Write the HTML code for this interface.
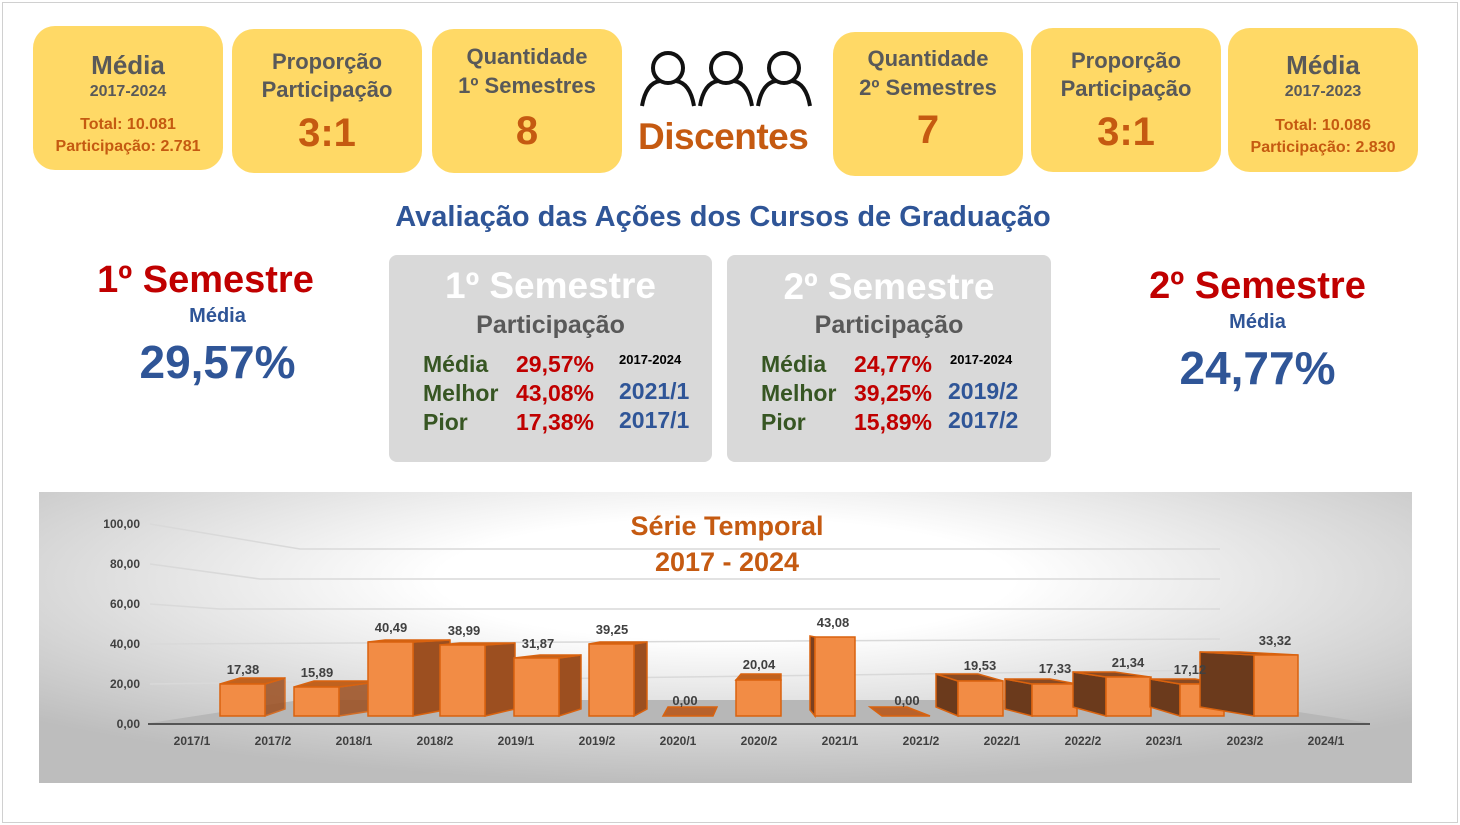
<!DOCTYPE html>
<html><head><meta charset="utf-8"><style>
*{margin:0;padding:0;box-sizing:border-box}
body{width:1460px;height:825px;background:#fff;position:relative;overflow:hidden;font-family:"Liberation Sans Narrow","Liberation Sans",sans-serif;font-weight:bold}
.frame{position:absolute;left:2px;top:2px;width:1456px;height:821px;border:1px solid #d0d0d0}
.card{position:absolute;background:#FFD966;border-radius:22px;text-align:center;color:#595959}
.a{position:absolute;white-space:nowrap}
.o{color:#C55A11}
.g{color:#595959}
.panel{position:absolute;background:#D9D9D9;border-radius:8px}
.grn{color:#375623}.red{color:#C00000}.blu{color:#2F5597}
</style></head><body>
<div class="frame"></div>

<div class="card" style="left:33px;top:26px;width:190px;height:144px">
 <div class="a" style="left:0;right:0;top:24px;font-size:26px">Média</div>
 <div class="a" style="left:0;right:0;top:57px;font-size:16px">2017-2024</div>
 <div class="a o" style="left:0;right:0;top:90px;font-size:16px">Total: 10.081</div>
 <div class="a o" style="left:0;right:0;top:112px;font-size:16px">Participação: 2.781</div>
</div>
<div class="card" style="left:232px;top:29px;width:190px;height:144px">
 <div class="a" style="left:0;right:0;top:20px;font-size:22px">Proporção</div>
 <div class="a" style="left:0;right:0;top:48px;font-size:22px">Participação</div>
 <div class="a o" style="left:0;right:0;top:82px;font-size:40px">3:1</div>
</div>
<div class="card" style="left:432px;top:29px;width:190px;height:144px">
 <div class="a" style="left:0;right:0;top:15px;font-size:22px">Quantidade</div>
 <div class="a" style="left:0;right:0;top:44px;font-size:22px">1º Semestres</div>
 <div class="a o" style="left:0;right:0;top:80px;font-size:40px">8</div>
</div>
<svg style="position:absolute;left:638px;top:48px" width="180" height="62" viewBox="0 0 180 62">
 <g fill="none" stroke="#111" stroke-width="4">
  <circle cx="30" cy="20" r="15"/><path d="M4 58 Q8 35 22 33 M38 33 Q52 35 56 58"/>
  <circle cx="88" cy="20" r="15"/><path d="M62 58 Q66 35 80 33 M96 33 Q110 35 114 58"/>
  <circle cx="146" cy="20" r="15"/><path d="M120 58 Q124 35 138 33 M154 33 Q168 35 172 58"/>
 </g></svg>
<div class="a o" style="left:638px;top:116px;font-size:37px;letter-spacing:-0.5px">Discentes</div>

<div class="card" style="left:833px;top:32px;width:190px;height:144px">
 <div class="a" style="left:0;right:0;top:14px;font-size:22px">Quantidade</div>
 <div class="a" style="left:0;right:0;top:43px;font-size:22px">2º Semestres</div>
 <div class="a o" style="left:0;right:0;top:76px;font-size:40px">7</div>
</div>
<div class="card" style="left:1031px;top:28px;width:190px;height:144px">
 <div class="a" style="left:0;right:0;top:20px;font-size:22px">Proporção</div>
 <div class="a" style="left:0;right:0;top:48px;font-size:22px">Participação</div>
 <div class="a o" style="left:0;right:0;top:82px;font-size:40px">3:1</div>
</div>
<div class="card" style="left:1228px;top:28px;width:190px;height:144px">
 <div class="a" style="left:0;right:0;top:22px;font-size:26px">Média</div>
 <div class="a" style="left:0;right:0;top:55px;font-size:16px">2017-2023</div>
 <div class="a o" style="left:0;right:0;top:89px;font-size:16px">Total: 10.086</div>
 <div class="a o" style="left:0;right:0;top:111px;font-size:16px">Participação: 2.830</div>
</div>

<div class="a blu" style="left:0;width:1446px;text-align:center;top:201px;font-size:29px">Avaliação das Ações dos Cursos de Graduação</div>

<div class="a red" style="left:60px;width:315px;text-align:center;top:259px;font-size:38px;left:48px">1º Semestre</div>
<div class="a blu" style="left:60px;width:315px;text-align:center;top:305px;font-size:20px">Média</div>
<div class="a blu" style="left:60px;width:315px;text-align:center;top:335px;font-size:46px">29,57%</div>

<div class="a red" style="left:1100px;width:315px;text-align:center;top:265px;font-size:38px">2º Semestre</div>
<div class="a blu" style="left:1100px;width:315px;text-align:center;top:311px;font-size:20px">Média</div>
<div class="a blu" style="left:1100px;width:315px;text-align:center;top:341px;font-size:46px">24,77%</div>

<div class="panel" style="left:389px;top:255px;width:323px;height:207px">
 <div class="a" style="left:0;right:0;text-align:center;top:10px;font-size:37px;color:#fff">1º Semestre</div>
 <div class="a g" style="left:0;right:0;text-align:center;top:56px;font-size:25px">Participação</div>
 <div class="a grn" style="left:34px;top:95px;font-size:23px;line-height:29px">Média<br>Melhor<br>Pior</div>
 <div class="a red" style="left:127px;top:95px;font-size:23px;line-height:29px">29,57%<br>43,08%<br>17,38%</div>
 <div class="a" style="left:230px;top:97px;font-size:13px;color:#000">2017-2024</div>
 <div class="a blu" style="left:230px;top:122px;font-size:23px;line-height:29px">2021/1<br>2017/1</div>
</div>
<div class="panel" style="left:727px;top:255px;width:324px;height:207px">
 <div class="a" style="left:0;right:0;text-align:center;top:11px;font-size:37px;color:#fff">2º Semestre</div>
 <div class="a g" style="left:0;right:0;text-align:center;top:56px;font-size:25px">Participação</div>
 <div class="a grn" style="left:34px;top:95px;font-size:23px;line-height:29px">Média<br>Melhor<br>Pior</div>
 <div class="a red" style="left:127px;top:95px;font-size:23px;line-height:29px">24,77%<br>39,25%<br>15,89%</div>
 <div class="a" style="left:223px;top:97px;font-size:13px;color:#000">2017-2024</div>
 <div class="a blu" style="left:221px;top:122px;font-size:23px;line-height:29px">2019/2<br>2017/2</div>
</div>

<svg style="position:absolute;left:0;top:0" width="1460" height="825">
 <defs><radialGradient id="bg" cx="0.5" cy="0.3" r="0.7"><stop offset="0.3" stop-color="#fff"/><stop offset="1" stop-color="#bdbdbd"/></radialGradient></defs>
 <rect x="39" y="492" width="1373" height="291" fill="url(#bg)"/>
 <g stroke="#d9d9d9" stroke-width="1.5" fill="none">
  <path d="M150 524 L300 549 L1220 549"/><path d="M150 564 L260 579 L1220 579"/>
  <path d="M150 604 L220 609 L1220 609"/><path d="M150 644 L1220 639"/><path d="M150 684 L1220 670"/>
 </g>
 <polygon points="150,723 1370,723 1220,700 300,700" fill="#b7b7b7"/>
 <line x1="148" y1="724" x2="1370" y2="724" stroke="#555" stroke-width="2"/>
 <g font-family="Liberation Sans,sans-serif" font-weight="bold" font-size="12" fill="#404040" text-anchor="end">
  <text x="140" y="528">100,00</text><text x="140" y="568">80,00</text><text x="140" y="608">60,00</text>
  <text x="140" y="648">40,00</text><text x="140" y="688">20,00</text><text x="140" y="728">0,00</text>
 </g>
 <g font-family="Liberation Sans,sans-serif" font-weight="bold" font-size="12" fill="#404040" text-anchor="middle">
  <text x="192" y="745">2017/1</text><text x="273" y="745">2017/2</text><text x="354" y="745">2018/1</text>
  <text x="435" y="745">2018/2</text><text x="516" y="745">2019/1</text><text x="597" y="745">2019/2</text>
  <text x="678" y="745">2020/1</text><text x="759" y="745">2020/2</text><text x="840" y="745">2021/1</text>
  <text x="921" y="745">2021/2</text><text x="1002" y="745">2022/1</text><text x="1083" y="745">2022/2</text>
  <text x="1164" y="745">2023/1</text><text x="1245" y="745">2023/2</text><text x="1326" y="745">2024/1</text>
 </g>
 <g stroke="#D9620E" stroke-width="1.5">
  <polygon points="265,684 285,678 285,709 265,716" fill="#9c4f20" opacity=".85"/><polygon points="220,684 240,678 285,678 265,684" fill="#c0621f"/><rect x="220" y="684" width="45" height="32" fill="#F28C45"/>
  <polygon points="339,687 384,681 384,709 339,716" fill="#9c4f20" opacity=".85"/><polygon points="294,687 314,681 384,681 339,687" fill="#c0621f"/><rect x="294" y="687" width="45" height="29" fill="#F28C45"/>
  <polygon points="413,642 450,640 450,709 413,716" fill="#9c4f20"/><polygon points="368,642 385,640 450,640 413,642" fill="#c0621f"/><rect x="368" y="642" width="45" height="74" fill="#F28C45"/>
  <polygon points="485,645 515,643 515,709 485,716" fill="#9c4f20"/><polygon points="440,645 460,643 515,643 485,645" fill="#c0621f"/><rect x="440" y="645" width="45" height="71" fill="#F28C45"/>
  <polygon points="559,658 581,655 581,709 559,716" fill="#9c4f20"/><polygon points="514,658 540,655 581,655 559,658" fill="#c0621f"/><rect x="514" y="658" width="45" height="58" fill="#F28C45"/>
  <polygon points="634,644 647,642 647,709 634,716" fill="#9c4f20"/><polygon points="589,644 600,642 647,642 634,644" fill="#c0621f"/><rect x="589" y="644" width="45" height="72" fill="#F28C45"/>
  <polygon points="663,716 713,716 717,707 668,707" fill="#b8622c"/>
  <polygon points="736,680 741,674 781,674 781,680" fill="#c0621f"/><rect x="736" y="680" width="45" height="36" fill="#F28C45"/>
  <polygon points="810,636 815,637 815,716 810,710" fill="#7a4020"/><rect x="815" y="637" width="40" height="79" fill="#F28C45"/>
  <polygon points="870,707 907,707 930,716 882,716" fill="#b8622c"/>
  <polygon points="936,674 958,681 958,716 936,707" fill="#6b3a1c"/><polygon points="936,674 978,674 1003,681 958,681" fill="#8a4a22"/><rect x="958" y="681" width="45" height="35" fill="#F28C45"/>
  <polygon points="1005,679 1032,684 1032,716 1005,709" fill="#6b3a1c"/><polygon points="1005,679 1050,679 1077,684 1032,684" fill="#8a4a22"/><rect x="1032" y="684" width="45" height="32" fill="#F28C45"/>
  <polygon points="1073,672 1106,677 1106,716 1073,707" fill="#6b3a1c"/><polygon points="1073,672 1115,672 1150,677 1106,677" fill="#8a4a22"/><rect x="1106" y="677" width="45" height="39" fill="#F28C45"/>
  <polygon points="1150,679 1180,684 1180,716 1150,707" fill="#6b3a1c"/><polygon points="1150,679 1195,679 1224,684 1180,684" fill="#8a4a22"/><rect x="1180" y="684" width="44" height="32" fill="#F28C45"/>
  <polygon points="1200,652 1254,655 1254,716 1200,707" fill="#6b3a1c"/><polygon points="1200,652 1240,652 1298,655 1254,655" fill="#8a4a22"/><rect x="1254" y="655" width="44" height="61" fill="#F28C45"/>
 </g>
 <g font-family="Liberation Sans,sans-serif" font-weight="bold" font-size="13" fill="#404040" text-anchor="middle">
  <text x="243" y="674">17,38</text><text x="317" y="677">15,89</text><text x="391" y="632">40,49</text>
  <text x="464" y="635">38,99</text><text x="538" y="648">31,87</text><text x="612" y="634">39,25</text>
  <text x="685" y="705">0,00</text><text x="759" y="669">20,04</text><text x="833" y="627">43,08</text>
  <text x="907" y="705">0,00</text><text x="980" y="670">19,53</text><text x="1055" y="673">17,33</text>
  <text x="1128" y="667">21,34</text><text x="1190" y="674">17,12</text><text x="1275" y="645">33,32</text>
 </g>
 <g font-family="Liberation Sans Narrow,Liberation Sans,sans-serif" font-weight="bold" font-size="27" fill="#C55A11" text-anchor="middle">
  <text x="727" y="535">Série Temporal</text><text x="727" y="571">2017 - 2024</text>
 </g>
</svg>
</body></html>
